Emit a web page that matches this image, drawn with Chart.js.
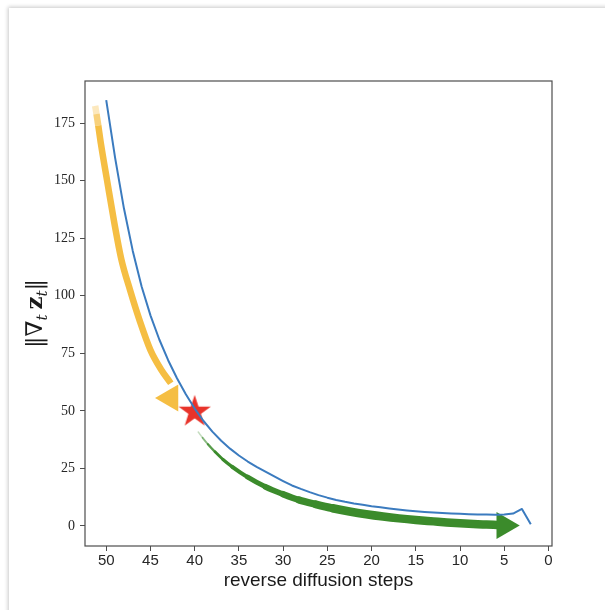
<!DOCTYPE html>
<html><head><meta charset="utf-8">
<script src="https://cdn.jsdelivr.net/npm/chart.js@4"></script>
<style>
html,body{margin:0;padding:0;background:#fff;width:605px;height:610px;overflow:hidden}
#card{position:absolute;left:9px;top:8px;width:700px;height:700px;background:#fff;box-shadow:0 0 4px 1px rgba(0,0,0,0.22)}
#c{position:absolute;left:0;top:0}
</style></head><body>
<div id="card"></div>
<canvas id="c" width="605" height="610"></canvas>
<script>
// ---- data ----
const steps = [50,49,48,47,46,45,44,43,42,41,40,39,38,37,36,35,34,33,32,31,30,29,28,27,26,25,24,23,22,21,20,19,18,17,16,15,14,13,12,11,10,9,8,7,6,5,4,3,2];
const gradNorm = [185,160,138,119.5,104,91.5,81,72,64.2,57.2,51,45.6,41,37,33.6,30.6,28,25.7,23.6,21.5,19.5,17.6,16.1,14.7,13.4,12.3,11.3,10.5,9.8,9.2,8.6,8.1,7.6,7.15,6.75,6.4,6.1,5.85,5.62,5.42,5.26,5.13,5.03,4.96,4.92,4.95,5.4,7.4,0.7];
const xTickValues = [50,45,40,35,30,25,20,15,10,5,0];
const yTickValues = [0,25,50,75,100,125,150,175];
const starStep = [40];
const starValue = [50];
const yellowArrowX = [51.25,51.1,50.9,50.6,49.9,49.1,48.3,47.3,46.2,45.0,43.8,42.7];
const yellowArrowY = [182.5,179,174,166,150,132,116,102.4,89,76.4,68,62];
const yellowHeadX = [42.73];
const yellowHeadY = [55.6];
const greenArrowX = [39.6,39.1,38.5,37.7,36.8,35.75,34,32.0,30,28.2,26.3,24.4,22.5,20.6,18.7,16.9,15,13.0,11.5,10.0,8.5,7.0,5.8];
const greenArrowY = [40.8,38.3,35.5,32.2,28.9,25.7,21.2,17.0,13.8,11.3,9.4,7.7,6.3,5.1,4.1,3.3,2.6,2.0,1.55,1.2,0.9,0.6,0.45];
const greenHeadX = [5.0];
const greenHeadY = [0.2];
const xTitle = 'reverse diffusion steps';

const BLUE = '#3b7bbf', YELLOW = '#f5be43', GREEN = '#3b8b2b', RED = '#e8332a';

function pts(xs, ys){ return xs.map((x,i)=>({x:x, y:ys[i]})); }

function makeStar(R, r, color){
  const s = Math.ceil(2*R+2);
  const c = document.createElement('canvas'); c.width = s; c.height = s;
  const g = c.getContext('2d'); g.translate(s/2, s/2 + 1);
  g.beginPath();
  for(let i=0;i<10;i++){ const a = -Math.PI/2 + i*Math.PI/5; const rr = i%2 ? r : R; g.lineTo(rr*Math.cos(a), rr*Math.sin(a)); }
  g.closePath(); g.fillStyle = color; g.fill();
  return c;
}
const starImg = makeStar(17, 6.6, RED);

function alphaOf(color, a){ return Chart.helpers.color(color).alpha(a).rgbString(); }

const yellowSeg = {
  borderColor: ctx => { const i = ctx.p0DataIndex; return i === 0 ? alphaOf(YELLOW, 0.35) : i === 1 ? alphaOf(YELLOW, 0.7) : YELLOW; }
};
const gx0 = greenArrowX[0], gx1 = greenArrowX[greenArrowX.length-1];
const greenSeg = {
  borderWidth: ctx => {
    const p = (gx0 - greenArrowX[ctx.p1DataIndex]) / (gx0 - gx1);
    return 1 + 7.5 * Math.pow(Math.min(1, p/0.5), 0.8);
  },
  borderColor: ctx => { const i = ctx.p0DataIndex; return i === 0 ? alphaOf(GREEN, 0.3) : i === 1 ? alphaOf(GREEN, 0.6) : i === 2 ? alphaOf(GREEN, 0.85) : GREEN; }
};

const framePlugin = {
  id:'frame',
  afterDraw(chart){
    const {ctx, chartArea:a} = chart;
    ctx.save(); ctx.strokeStyle = '#4d4d4d'; ctx.lineWidth = 1.2;
    ctx.strokeRect(a.left, a.top, a.right-a.left, a.bottom-a.top);
    ctx.restore();
  }
};

const yTitlePlugin = {
  id:'ytitle',
  afterDraw(chart){
    const ctx = chart.ctx, a = chart.chartArea;
    const main = '23px "DejaVu Serif"', bold = 'bold 23px "DejaVu Serif"', sub = 'italic 15px "DejaVu Serif"';
    const parts = [
      {t:'\u2016', f:main, dv:0},
      {t:'\u2207', f:main, dv:0},
      {t:'t', f:sub, dv:7},
      {t:' ', f:sub, dv:0},
      {t:'z', f:bold, dv:0},
      {t:'t', f:sub, dv:7},
      {t:'\u2016', f:main, dv:0}
    ];
    ctx.save();
    let total = 0;
    parts.forEach(p=>{ ctx.font = p.f; p.w = ctx.measureText(p.t).width; total += p.w; });
    ctx.translate(36, (a.top + a.bottom)/2);
    ctx.rotate(-Math.PI/2);
    ctx.fillStyle = '#1a1a1a';
    ctx.textBaseline = 'middle';
    ctx.textAlign = 'left';
    let u = -total/2;
    parts.forEach(p=>{ ctx.font = p.f; ctx.fillText(p.t, u, p.dv); u += p.w; });
    ctx.restore();
  }
};

new Chart(document.getElementById('c'), {
  type: 'line',
  data: {
    datasets: [
      { label:'grad norm', data: pts(steps, gradNorm), borderColor: BLUE, borderWidth: 2, pointRadius: 0, tension: 0, borderJoinStyle:'round', order: 0 },
      { label:'star', data: pts(starStep, starValue), showLine:false, pointStyle: starImg, pointRadius: 18, order: 1 },
      { label:'yellow head', data: pts(yellowHeadX, yellowHeadY), showLine:false, pointStyle:'triangle', rotation: 270, pointRadius: 15.5, pointBackgroundColor: YELLOW, pointBorderColor: YELLOW, pointBorderWidth: 0, order: 2 },
      { label:'yellow arrow', data: pts(yellowArrowX, yellowArrowY), borderColor: YELLOW, borderWidth: 6.5, borderCapStyle:'butt', borderJoinStyle:'round', pointRadius: 0, cubicInterpolationMode:'monotone', segment: yellowSeg, order: 3 },
      { label:'green head', data: pts(greenHeadX, greenHeadY), showLine:false, pointStyle:'triangle', rotation: 90, pointRadius: 15.5, pointBackgroundColor: GREEN, pointBorderColor: GREEN, pointBorderWidth: 0, order: 2 },
      { label:'green arrow', data: pts(greenArrowX, greenArrowY), borderColor: GREEN, borderWidth: 6, borderCapStyle:'round', borderJoinStyle:'round', pointRadius: 0, cubicInterpolationMode:'monotone', segment: greenSeg, order: 3 }
    ]
  },
  options: {
    responsive: false,
    animation: false,
    devicePixelRatio: 1,
    layout: { padding: { top: 81, right: 53, left: 0, bottom: 0 } },
    plugins: { legend: { display:false }, tooltip: { enabled:false } },
    scales: {
      x: {
        type: 'linear', reverse: true, min: -0.4, max: 52.4,
        afterBuildTicks: s => { s.ticks = xTickValues.map(v=>({value:v})); },
        afterFit: s => { s.height = 64; },
        border: { display:false },
        grid: { drawOnChartArea:false, drawTicks:true, tickLength:5, color:'#4d4d4d', tickWidth:1 },
        ticks: { font:{ family:'"Liberation Sans"', size:15 }, color:'#262626', padding:1, maxRotation:0, autoSkip:false },
        title: { display:true, text: xTitle, font:{ family:'"Liberation Sans"', size:19 }, color:'#1a1a1a', padding:{ top:0, bottom:18 } }
      },
      y: {
        type: 'linear', min: -8.7, max: 193.3,
        afterBuildTicks: s => { s.ticks = yTickValues.map(v=>({value:v})); },
        afterFit: s => { s.width = 85; },
        border: { display:false },
        grid: { drawOnChartArea:false, drawTicks:true, tickLength:5, color:'#4d4d4d', tickWidth:1 },
        ticks: { font:{ family:'"Liberation Serif"', size:14 }, color:'#262626', padding:5 }
      }
    }
  },
  plugins: [framePlugin, yTitlePlugin]
});
</script>
</body></html>
